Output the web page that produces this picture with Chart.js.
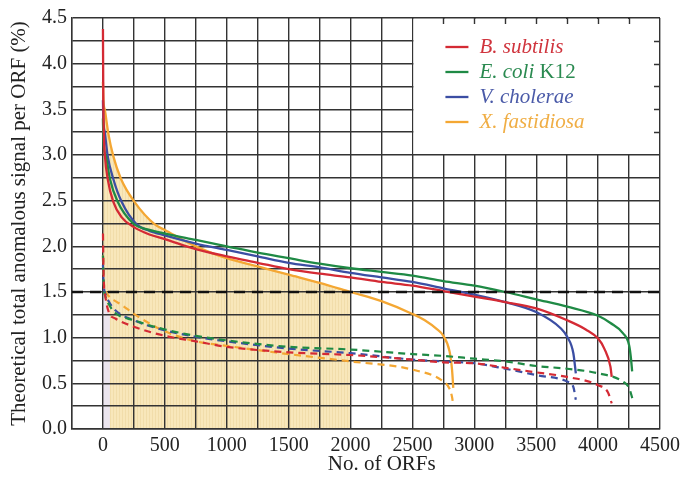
<!DOCTYPE html>
<html>
<head>
<meta charset="utf-8">
<script src="https://cdn.jsdelivr.net/npm/chart.js@4"></script>
<style>
  html, body { margin: 0; padding: 0; background: #fff; }
  #wrap { width: 681px; height: 477px; }
</style>
</head>
<body>
<div id="wrap"><canvas id="myChart" width="681" height="477"></canvas></div>
<script>
// solid curves
const bsX = [0, 3, 8, 16, 38, 83, 150, 250, 375, 500, 750, 1000, 1250, 1500, 1750, 2000, 2250, 2500, 2750, 3000, 3250, 3500, 3750, 3900, 4000, 4050, 4100, 4110];
const bsY = [4.38, 3.6, 3.2, 2.99, 2.74, 2.49, 2.32, 2.21, 2.13, 2.08, 1.97, 1.89, 1.82, 1.75, 1.70, 1.66, 1.61, 1.57, 1.51, 1.45, 1.39, 1.32, 1.19, 1.09, 0.99, 0.88, 0.68, 0.57];
const ecX = [0, 3, 10, 24, 56, 118, 245, 375, 500, 750, 1000, 1250, 1500, 1750, 2000, 2250, 2500, 2750, 3000, 3250, 3500, 3750, 4000, 4100, 4200, 4250, 4265, 4275];
const ecY = [3.4, 3.2, 3.05, 2.99, 2.74, 2.49, 2.25, 2.18, 2.14, 2.07, 2.0, 1.93, 1.87, 1.81, 1.76, 1.72, 1.68, 1.62, 1.57, 1.50, 1.42, 1.34, 1.24, 1.16, 1.05, 0.92, 0.78, 0.63];
const vcX = [0, 3, 16, 38, 83, 150, 272, 375, 500, 750, 1000, 1250, 1500, 1750, 2000, 2250, 2500, 2750, 3000, 3250, 3500, 3700, 3750, 3800, 3820];
const vcY = [3.6, 3.4, 3.24, 2.99, 2.74, 2.49, 2.24, 2.17, 2.12, 2.03, 1.96, 1.89, 1.82, 1.77, 1.71, 1.66, 1.61, 1.54, 1.47, 1.39, 1.28, 1.10, 1.01, 0.83, 0.61];
const xfX = [0, 4, 16, 43, 83, 145, 253, 419, 500, 750, 1000, 1250, 1500, 1750, 2000, 2250, 2500, 2600, 2700, 2750, 2800, 2820, 2830];
const xfY = [3.8, 3.6, 3.49, 3.24, 2.99, 2.74, 2.49, 2.24, 2.18, 2.0, 1.87, 1.78, 1.69, 1.60, 1.50, 1.40, 1.26, 1.19, 1.09, 1.02, 0.85, 0.65, 0.45];

// dashed curves
const bsDX = [0, 5, 20, 50, 100, 250, 500, 750, 1000, 1500, 2000, 2500, 2750, 3000, 3250, 3500, 3750, 4000, 4080, 4110];
const bsDY = [2.14, 1.7, 1.45, 1.27, 1.21, 1.12, 1.02, 0.96, 0.90, 0.84, 0.81, 0.76, 0.73, 0.72, 0.67, 0.62, 0.57, 0.48, 0.40, 0.28];
const ecDX = [0, 5, 20, 50, 100, 250, 500, 750, 1000, 1500, 2000, 2500, 2750, 3000, 3250, 3500, 3750, 4000, 4200, 4250, 4280];
const ecDY = [1.9, 1.6, 1.45, 1.36, 1.27, 1.19, 1.09, 1.02, 0.97, 0.90, 0.87, 0.82, 0.80, 0.77, 0.74, 0.69, 0.66, 0.61, 0.52, 0.45, 0.32];
const vcDX = [0, 5, 20, 50, 100, 250, 500, 750, 1000, 1500, 2000, 2500, 2750, 3000, 3250, 3500, 3750, 3800, 3820];
const vcDY = [1.8, 1.6, 1.48, 1.39, 1.30, 1.19, 1.08, 1.01, 0.96, 0.88, 0.83, 0.76, 0.74, 0.72, 0.66, 0.59, 0.52, 0.46, 0.32];
const xfDX = [0, 5, 20, 50, 100, 150, 250, 500, 750, 1000, 1500, 2000, 2500, 2750, 2800, 2820, 2830];
const xfDY = [1.9, 1.65, 1.52, 1.45, 1.40, 1.36, 1.26, 1.07, 0.96, 0.91, 0.82, 0.74, 0.65, 0.52, 0.44, 0.35, 0.26];

// shaded areas
const tanEnd = 2000;
const lavX = [0, 5, 20, 50, 56];
const lavY = [1.9, 1.6, 1.42, 1.27, 1.25];

const thresholdY = 1.5;

const names = ['B. subtilis', 'E. coli', 'V. cholerae', 'X. fastidiosa'];
const nameTail = ['', ' K12', '', ''];
const colors = ['#d42a34', '#1f8a45', '#3b4ea3', '#f4a733'];
const textColors = ['#d0343d', '#2a8a50', '#4a5aa8', '#f0ae45'];

function pts(xs, ys) {
  return xs.map((x, i) => ({ x: x, y: ys[i] }));
}

function tanPattern() {
  const c = document.createElement('canvas');
  c.width = 3; c.height = 1;
  const g = c.getContext('2d');
  g.fillStyle = '#f8e7ba';
  g.fillRect(0, 0, 3, 1);
  g.fillStyle = '#f1ddaa';
  g.fillRect(2, 0, 1, 1);
  return g.createPattern(c, 'repeat');
}

const ctx = document.getElementById('myChart').getContext('2d');

const solid = [[bsX, bsY], [ecX, ecY], [vcX, vcY], [xfX, xfY]];
const dashed = [[bsDX, bsDY], [ecDX, ecDY], [vcDX, vcDY], [xfDX, xfDY]];

const datasets = [
  {
    data: pts(lavX, lavY),
    borderWidth: 0, borderColor: 'rgba(0,0,0,0)', pointRadius: 0,
    backgroundColor: '#ebe5ee', fill: 'origin'
  },
  {
    data: pts(xfX.filter(x => x <= tanEnd), xfY.filter((y, i) => xfX[i] <= tanEnd)),
    borderWidth: 0, borderColor: 'rgba(0,0,0,0)', pointRadius: 0,
    backgroundColor: tanPattern(), fill: 'origin', cubicInterpolationMode: 'monotone'
  },
  {
    data: [{ x: -250, y: thresholdY }, { x: 4500, y: thresholdY }],
    borderColor: '#111', borderWidth: 2.3, borderDash: [11, 7], pointRadius: 0, fill: false
  }
];
dashed.forEach((s, i) => datasets.push({
  data: pts(s[0], s[1]), borderColor: colors[i], borderWidth: 2.2, borderDash: [7, 5],
  pointRadius: 0, fill: false, cubicInterpolationMode: 'monotone'
}));
solid.forEach((s, i) => datasets.push({
  data: pts(s[0], s[1]), borderColor: colors[i], borderWidth: 2.3,
  pointRadius: 0, fill: false, cubicInterpolationMode: 'monotone'
}));

const legendBox = {
  id: 'legendBox',
  afterDraw(chart) {
    const c = chart.ctx;
    const xs = chart.scales.x, ys = chart.scales.y;
    const l = xs.getPixelForValue(2500), r = xs.getPixelForValue(4500);
    const t = ys.getPixelForValue(4.5), b = ys.getPixelForValue(3.0);
    c.save();
    c.fillStyle = '#fff';
    c.fillRect(l + 1, t + 1, r - l - 2, b - t - 2);
    c.strokeStyle = '#333';
    c.lineWidth = 1.4;
    c.beginPath();
    for (let v = 2750; v < 4500; v += 250) {
      const px = Math.round(xs.getPixelForValue(v)) + 0.5;
      c.moveTo(px, t); c.lineTo(px, t + 6);
    }
    for (let v = 3.25; v < 4.5; v += 0.25) {
      const py = Math.round(ys.getPixelForValue(v)) + 0.5;
      c.moveTo(r, py); c.lineTo(r - 6, py);
    }
    c.stroke();

    c.textBaseline = 'middle';
    const x0 = l + 33, y0 = t + 29, dy = 25;
    names.forEach((n, i) => {
      const y = y0 + i * dy;
      c.strokeStyle = colors[i];
      c.lineWidth = 2.3;
      c.beginPath();
      c.moveTo(x0, y); c.lineTo(x0 + 23, y);
      c.stroke();
      c.fillStyle = textColors[i];
      c.font = 'italic 21px "Liberation Serif"';
      c.fillText(n, x0 + 34, y);
      if (nameTail[i]) {
        const w = c.measureText(n).width;
        c.font = '21px "Liberation Serif"';
        c.fillText(nameTail[i], x0 + 34 + w, y);
      }
    });
    c.restore();
  }
};

new Chart(ctx, {
  type: 'line',
  data: { datasets: datasets },
  plugins: [legendBox],
  options: {
    responsive: false,
    animation: false,
    layout: { padding: { top: 18, right: 21, left: 0, bottom: 0 } },
    plugins: {
      legend: { display: false },
      tooltip: { enabled: false },
      filler: { drawTime: 'beforeDraw' }
    },
    scales: {
      x: {
        type: 'linear', min: -250, max: 4500,
        afterFit(scale) { scale.height = 48; scale.paddingRight = 0; scale.paddingLeft = 0; },
        border: { color: '#333', width: 1.4 },
        grid: { color: '#333', lineWidth: 1.4, drawTicks: false },
        ticks: {
          stepSize: 250, padding: 5, color: '#222', maxRotation: 0, autoSkip: false,
          font: { family: 'Liberation Serif', size: 20 },
          callback: v => (v >= 0 && v % 500 === 0) ? String(v) : ''
        },
        title: {
          display: true, text: '\u2003\u2002No. of ORFs', color: '#222',
          font: { family: 'Liberation Serif', size: 21 }, padding: { top: 2, bottom: 0 }
        }
      },
      y: {
        min: 0, max: 4.5,
        afterFit(scale) { scale.width = 72; },
        border: { color: '#333', width: 1.4 },
        grid: { color: '#333', lineWidth: 1.4, drawTicks: false },
        ticks: {
          stepSize: 0.25, padding: 5, color: '#222', autoSkip: false,
          font: { family: 'Liberation Serif', size: 20 },
          callback: v => (Math.abs(v * 2 - Math.round(v * 2)) < 1e-6) ? v.toFixed(1) : ''
        },
        title: {
          display: true, text: 'Theoretical total anomalous signal per ORF (%)', color: '#222',
          font: { family: 'Liberation Serif', size: 21 }, padding: { top: 7, bottom: 0 }
        }
      }
    }
  }
});
</script>
</body>
</html>
